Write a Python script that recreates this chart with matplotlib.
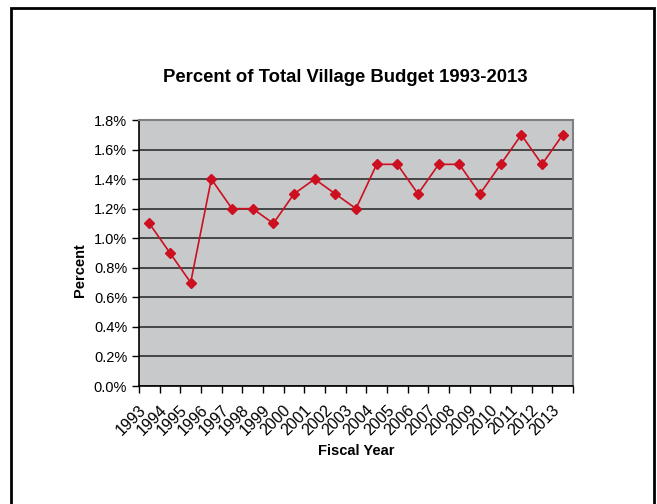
import matplotlib
matplotlib.use("Agg")
import matplotlib.pyplot as plt
import matplotlib.transforms as mtransforms
from matplotlib.patches import Rectangle
from matplotlib.ticker import FixedLocator, NullFormatter

years = ["1993", "1994", "1995", "1996", "1997", "1998", "1999", "2000", "2001",
         "2002", "2003", "2004", "2005", "2006", "2007", "2008", "2009", "2010",
         "2011", "2012", "2013"]
percent = [1.1, 0.9, 0.7, 1.4, 1.2, 1.2, 1.1, 1.3, 1.4, 1.3, 1.2, 1.5, 1.5,
           1.3, 1.5, 1.5, 1.3, 1.5, 1.7, 1.5, 1.7]
y_ticks = [0.0, 0.2, 0.4, 0.6, 0.8, 1.0, 1.2, 1.4, 1.6, 1.8]

plt.rcParams['font.family'] = ['Liberation Sans', 'DejaVu Sans']

W, H = 657, 504
fig = plt.figure(figsize=(W / 100, H / 100), dpi=100)

# outer chart border
fig.patches.append(Rectangle((11 / W, -0.01), (654 - 11) / W, (H - 8) / H + 0.01,
                             transform=fig.transFigure, fill=False,
                             edgecolor='black', linewidth=2.0))

left, right, top, bottom = 139, 573, 120, 386
ax = fig.add_axes([left / W, 1 - bottom / H, (right - left) / W, (bottom - top) / H])
ax.set_facecolor('#c8c9cb')

x = list(range(len(years)))
ax.plot(x, percent, color='#cc1020', linewidth=1.2, marker='D', markersize=5.5,
        markerfacecolor='#cc1020', markeredgecolor='#cc1020', zorder=3)

ax.set_xlim(-0.5, len(years) - 0.5)
ax.set_ylim(0, 1.8)
ax.set_yticks(y_ticks)
ax.set_yticklabels([f"{v:.1f}%" for v in y_ticks], fontsize=10.5)
ax.yaxis.grid(True, color='#222222', linewidth=1.1)
ax.set_axisbelow(True)

# category ticks sit on the boundaries, labels near the centers
ax.xaxis.set_major_locator(FixedLocator([i - 0.5 for i in range(len(years) + 1)]))
ax.xaxis.set_major_formatter(NullFormatter())
ax.set_xticks(x, minor=True)
labels = ax.set_xticklabels(years, minor=True, rotation=45, ha='right',
                            va='top', rotation_mode='anchor', fontsize=11.5)
ax.tick_params(axis='x', which='minor', length=0, pad=12)
ax.tick_params(axis='x', which='major', length=5, width=1, direction='out', color='black')
ax.tick_params(axis='y', length=5, width=1, direction='out', color='black')
shift = mtransforms.ScaledTranslation(-11 / 100, 0, fig.dpi_scale_trans)
for lab in labels:
    lab.set_transform(lab.get_transform() + shift)

for side in ['top', 'right']:
    ax.spines[side].set_color('#808080')
    ax.spines[side].set_linewidth(1.5)
for side in ['left', 'bottom']:
    ax.spines[side].set_color('black')
    ax.spines[side].set_linewidth(1.2)

fig.text((left + right) / 2 / W, 1 - 451 / H, "Fiscal Year", ha='center', va='center',
         fontsize=10.5, fontweight='bold')
fig.text(80 / W, 1 - 270 / H, "Percent", ha='center', va='center', rotation=90,
         fontsize=10.5, fontweight='bold')
fig.text((163 + 528) / 2 / W, 1 - 77 / H, "Percent of Total Village Budget 1993-2013",
         ha='center', va='center', fontsize=13.3, fontweight='bold')

fig.savefig("out.png", dpi=100)
